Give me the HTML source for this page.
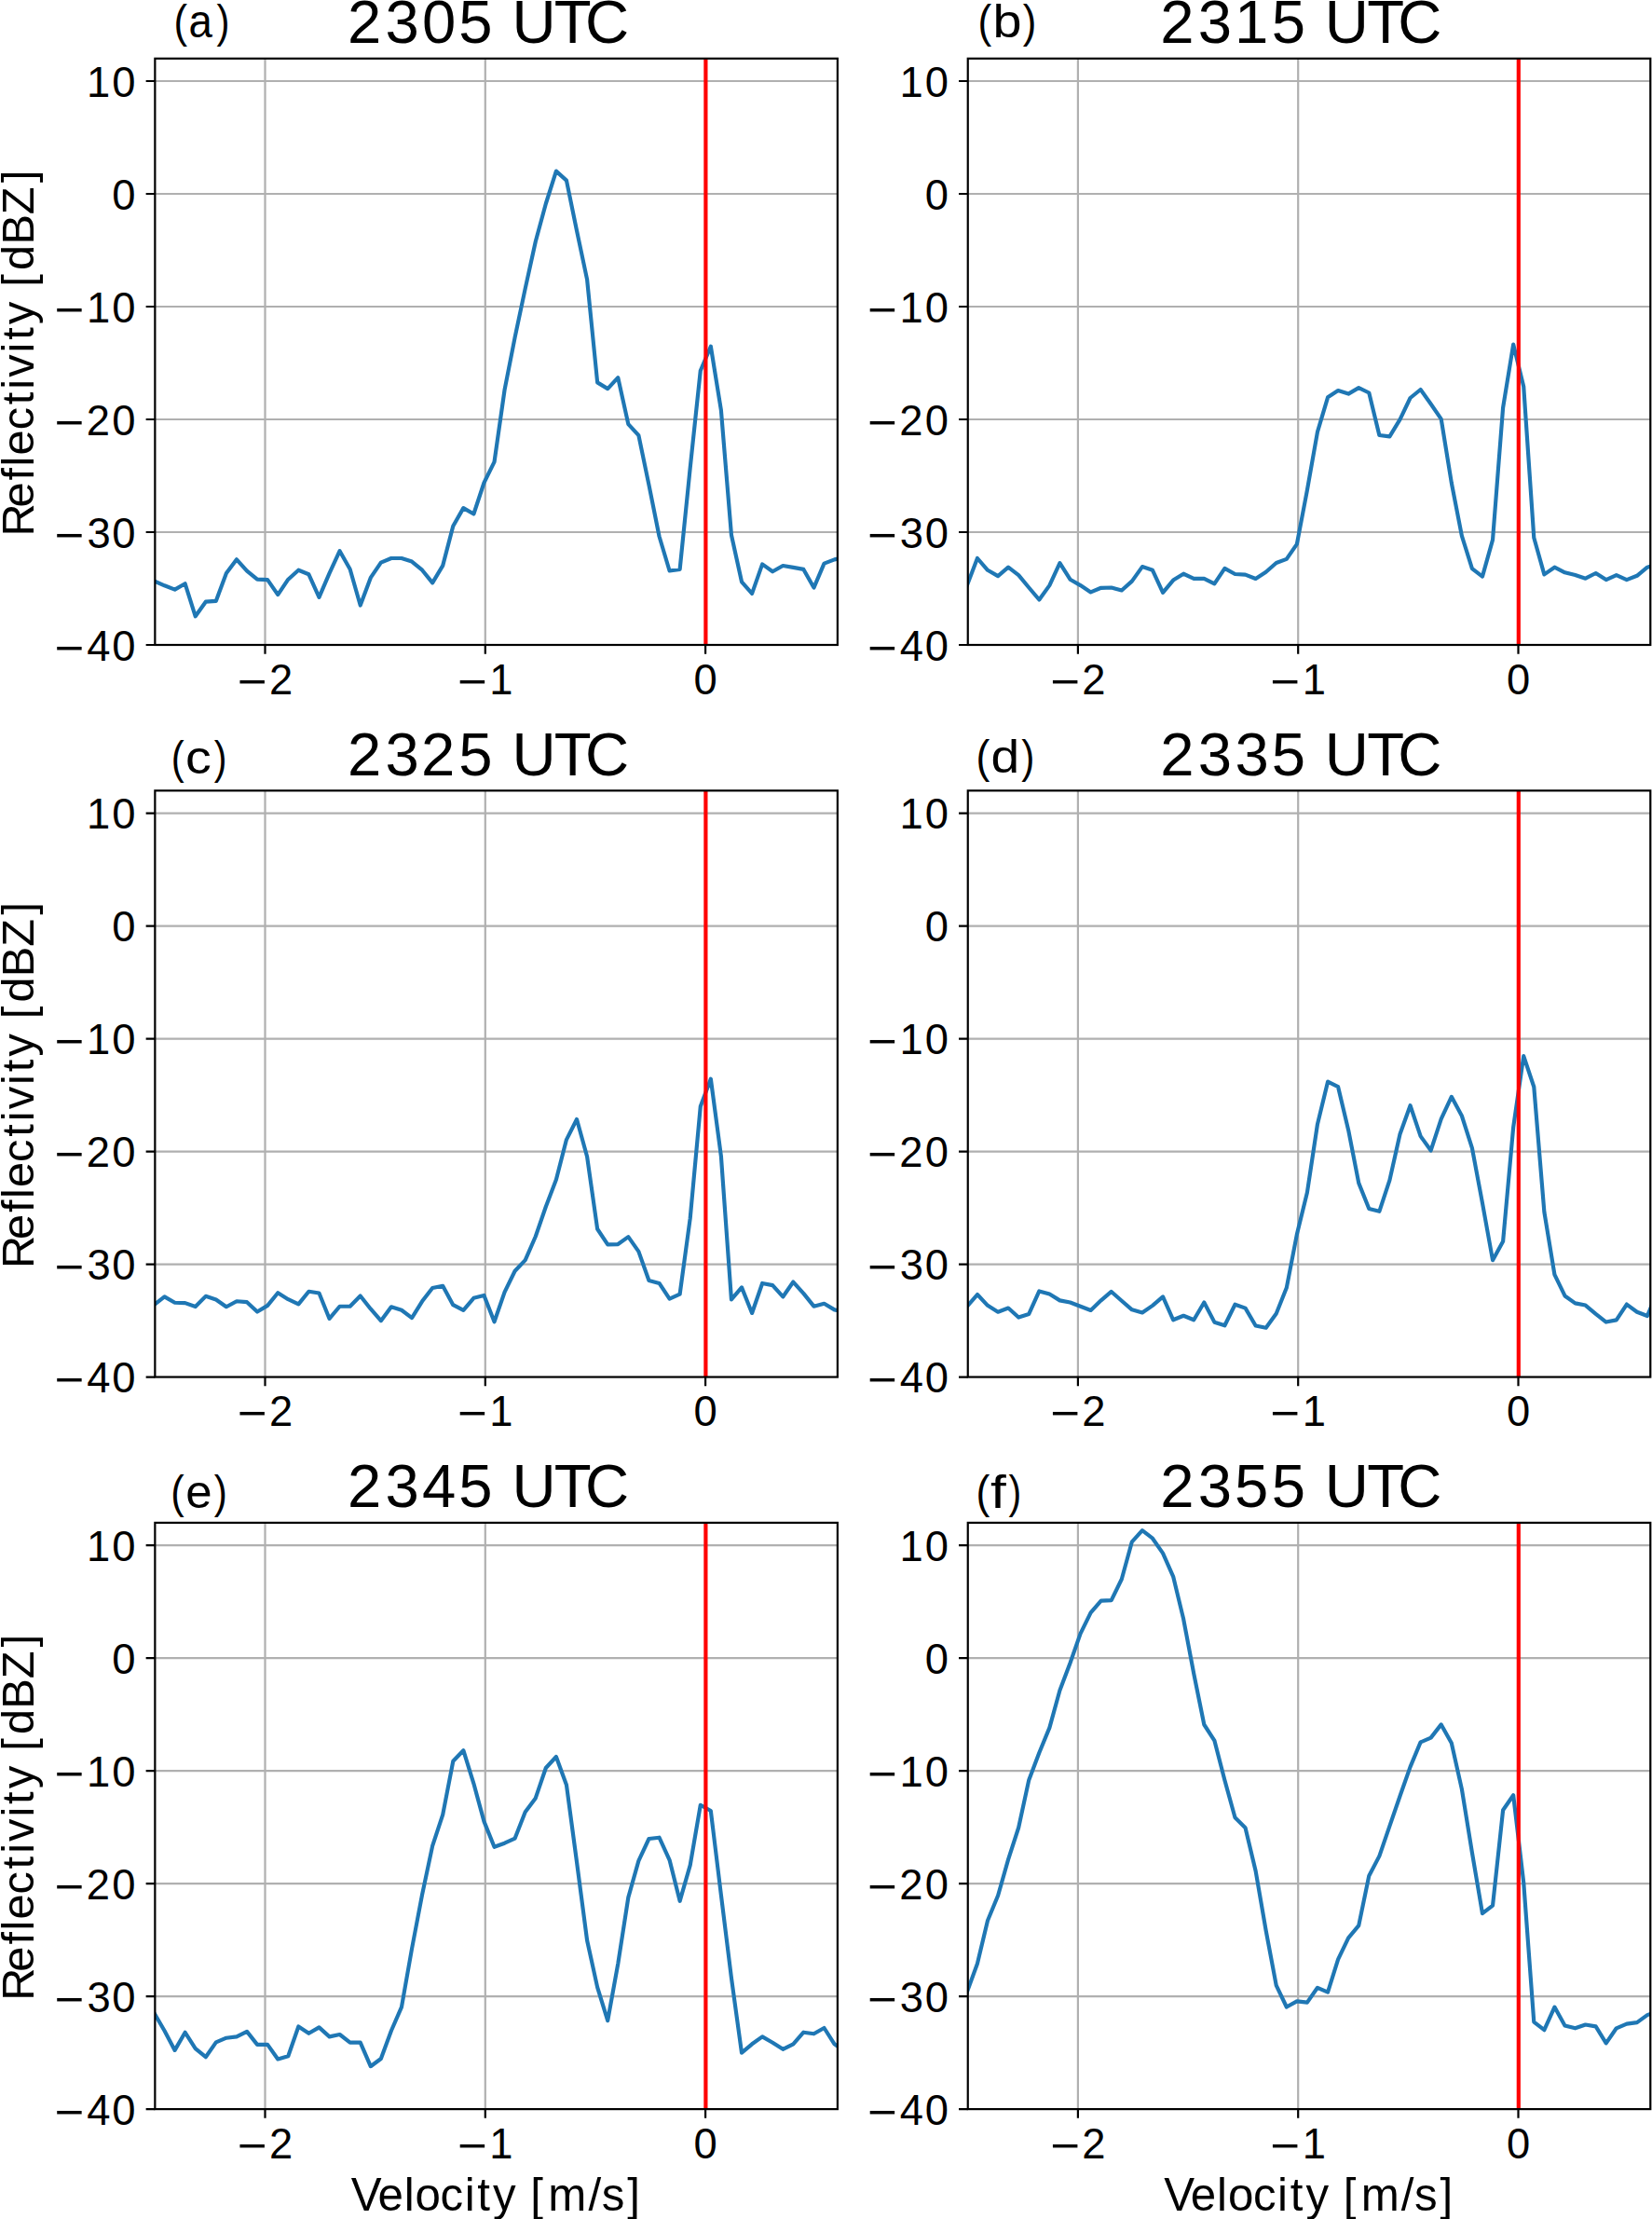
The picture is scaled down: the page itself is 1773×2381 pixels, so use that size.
<!DOCTYPE html>
<html><head><meta charset="utf-8"><title>Reflectivity spectra</title>
<style>html,body{margin:0;padding:0;background:#fff;width:1773px;height:2381px;overflow:hidden}
.t text{font-family:"Liberation Sans",sans-serif}</style>
</head><body>
<svg width="1773" height="2381" viewBox="0 0 1773 2381" style="display:block">
<rect width="1773" height="2381" fill="#ffffff"/>
<g class="t" fill="#000000">
<clipPath id="clipa"><rect x="166.35" y="62.80" width="732.53" height="629.20"/></clipPath>
<path d="M284.50 62.80V692.00M520.80 62.80V692.00M757.10 62.80V692.00M166.35 87.00H898.88M166.35 208.00H898.88M166.35 329.00H898.88M166.35 450.00H898.88M166.35 571.00H898.88" stroke="#b0b0b0" stroke-width="2.2" fill="none"/>
<polyline points="165.48,623.50 176.54,628.30 187.61,632.60 198.67,626.30 209.73,661.30 220.79,645.70 231.86,644.80 242.92,615.00 253.98,600.30 265.04,612.60 276.10,621.70 287.16,622.10 298.23,638.10 309.29,621.70 320.35,611.70 331.41,616.30 342.47,640.80 353.54,615.20 364.60,591.20 375.66,610.80 386.72,649.50 397.78,619.90 408.85,603.60 419.91,599.00 430.97,599.00 442.03,602.60 453.09,611.70 464.16,625.40 475.22,606.90 486.28,564.50 497.34,545.10 508.40,551.50 519.47,518.00 530.53,495.60 541.59,418.10 552.65,361.90 563.71,309.60 574.78,259.20 585.84,218.50 596.90,183.60 607.96,193.60 619.02,247.50 630.09,299.90 641.15,410.40 652.21,417.10 663.27,405.20 674.33,455.10 685.40,467.20 696.46,520.40 707.52,575.50 718.58,612.50 729.64,610.90 740.71,502.00 751.77,397.70 762.83,371.70 773.89,440.20 784.95,574.00 796.02,624.30 807.08,636.90 818.14,605.40 829.20,613.30 840.26,607.00 851.33,608.90 862.39,610.90 873.45,630.60 884.51,604.60 895.57,600.40 906.64,598.00" fill="none" stroke="#1f77b4" stroke-width="4.17" stroke-linejoin="round" stroke-linecap="square" clip-path="url(#clipa)"/>
<path d="M757.40 62.80V692.00" stroke="#ff0000" stroke-width="4.17" clip-path="url(#clipa)"/>
<rect x="166.35" y="62.80" width="732.53" height="629.20" fill="none" stroke="#000" stroke-width="2.2"/>
<path d="M284.50 692.00v9.72M520.80 692.00v9.72M757.10 692.00v9.72M166.35 87.00h-9.72M166.35 208.00h-9.72M166.35 329.00h-9.72M166.35 450.00h-9.72M166.35 571.00h-9.72M166.35 692.00h-9.72" stroke="#000" stroke-width="2.2" fill="none"/>
<text x="93.08 120.23" y="103.80" font-size="45.35">10</text>
<text x="120.23" y="224.80" font-size="45.35">0</text>
<text transform="translate(58.84,348.92) scale(1.2018,1.0861)" font-size="45.35">−</text><text x="93.08 120.23" y="345.80" font-size="45.35">10</text>
<text transform="translate(58.84,469.92) scale(1.2018,1.0861)" font-size="45.35">−</text><text x="92.76 120.23" y="466.80" font-size="45.35">20</text>
<text transform="translate(58.84,590.92) scale(1.2018,1.0861)" font-size="45.35">−</text><text x="93.38 120.23" y="587.80" font-size="45.35">30</text>
<text transform="translate(58.84,711.92) scale(1.2018,1.0861)" font-size="45.35">−</text><text x="93.32 120.23" y="708.80" font-size="45.35">40</text>
<text transform="translate(254.99,747.92) scale(1.2018,1.0861)" font-size="45.35">−</text><text x="288.92" y="744.80" font-size="45.35">2</text>
<text transform="translate(491.13,747.92) scale(1.2018,1.0861)" font-size="45.35">−</text><text x="525.37" y="744.80" font-size="45.35">1</text>
<text x="744.49" y="744.80" font-size="45.35">0</text>
<text x="372.95 413.44 452.94 492.28 530.47 549.45 594.87 627.93" y="46.00" font-size="65.26">2305 UTC</text>
<text transform="translate(186.49,40.40) scale(0.8672,1)" font-size="50.45">(</text>
<text transform="translate(202.56,40.40) scale(0.9030,1)" font-size="50.45">a</text>
<text transform="translate(232.55,40.40) scale(0.8298,1)" font-size="50.45">)</text>
<text transform="rotate(-90)" x="-575.54 -544.57 -515.49 -500.49 -488.38 -461.36 -434.28 -417.66 -404.82 -378.41 -364.80 -347.89 -322.35 -307.77 -289.88 -262.61 -230.22 -196.04" y="35.80" font-size="48.69">Reflectivity [dBZ]</text>
<clipPath id="clipb"><rect x="1038.75" y="62.80" width="732.53" height="629.20"/></clipPath>
<path d="M1156.90 62.80V692.00M1393.20 62.80V692.00M1629.50 62.80V692.00M1038.75 87.00H1771.28M1038.75 208.00H1771.28M1038.75 329.00H1771.28M1038.75 450.00H1771.28M1038.75 571.00H1771.28" stroke="#b0b0b0" stroke-width="2.2" fill="none"/>
<polyline points="1037.88,628.10 1048.94,599.00 1060.01,611.80 1071.07,618.10 1082.13,608.70 1093.19,617.20 1104.26,630.50 1115.32,643.50 1126.38,628.10 1137.44,604.10 1148.50,621.70 1159.57,628.10 1170.63,635.40 1181.69,630.80 1192.75,630.50 1203.81,633.50 1214.88,623.60 1225.94,608.10 1237.00,611.80 1248.06,635.90 1259.12,622.60 1270.18,615.70 1281.25,620.80 1292.31,620.80 1303.37,626.30 1314.43,609.90 1325.49,616.00 1336.56,616.60 1347.62,621.00 1358.68,613.70 1369.74,604.00 1380.80,599.90 1391.87,583.90 1402.93,525.80 1413.99,463.30 1425.05,426.30 1436.11,419.00 1447.18,422.60 1458.24,416.10 1469.30,421.50 1480.36,467.00 1491.42,468.40 1502.49,450.20 1513.55,427.00 1524.61,418.00 1535.67,433.50 1546.73,449.60 1557.80,518.00 1568.86,574.80 1579.92,610.10 1590.98,618.60 1602.05,579.10 1613.11,437.30 1624.17,369.60 1635.23,414.80 1646.29,577.00 1657.36,616.40 1668.42,608.70 1679.48,614.30 1690.54,617.10 1701.60,620.70 1712.66,615.00 1723.73,622.10 1734.79,617.10 1745.85,622.10 1756.91,617.80 1767.97,608.70 1779.04,605.30" fill="none" stroke="#1f77b4" stroke-width="4.17" stroke-linejoin="round" stroke-linecap="square" clip-path="url(#clipb)"/>
<path d="M1629.80 62.80V692.00" stroke="#ff0000" stroke-width="4.17" clip-path="url(#clipb)"/>
<rect x="1038.75" y="62.80" width="732.53" height="629.20" fill="none" stroke="#000" stroke-width="2.2"/>
<path d="M1156.90 692.00v9.72M1393.20 692.00v9.72M1629.50 692.00v9.72M1038.75 87.00h-9.72M1038.75 208.00h-9.72M1038.75 329.00h-9.72M1038.75 450.00h-9.72M1038.75 571.00h-9.72M1038.75 692.00h-9.72" stroke="#000" stroke-width="2.2" fill="none"/>
<text x="965.48 992.63" y="103.80" font-size="45.35">10</text>
<text x="992.63" y="224.80" font-size="45.35">0</text>
<text transform="translate(931.24,348.92) scale(1.2018,1.0861)" font-size="45.35">−</text><text x="965.48 992.63" y="345.80" font-size="45.35">10</text>
<text transform="translate(931.24,469.92) scale(1.2018,1.0861)" font-size="45.35">−</text><text x="965.16 992.63" y="466.80" font-size="45.35">20</text>
<text transform="translate(931.24,590.92) scale(1.2018,1.0861)" font-size="45.35">−</text><text x="965.78 992.63" y="587.80" font-size="45.35">30</text>
<text transform="translate(931.24,711.92) scale(1.2018,1.0861)" font-size="45.35">−</text><text x="965.72 992.63" y="708.80" font-size="45.35">40</text>
<text transform="translate(1127.39,747.92) scale(1.2018,1.0861)" font-size="45.35">−</text><text x="1161.32" y="744.80" font-size="45.35">2</text>
<text transform="translate(1363.53,747.92) scale(1.2018,1.0861)" font-size="45.35">−</text><text x="1397.77" y="744.80" font-size="45.35">1</text>
<text x="1616.89" y="744.80" font-size="45.35">0</text>
<text x="1245.35 1285.84 1325.01 1364.68 1402.87 1421.85 1467.27 1500.33" y="46.00" font-size="65.26">2315 UTC</text>
<text transform="translate(1049.56,40.40) scale(0.8747,1)" font-size="50.45">(</text>
<text transform="translate(1065.50,40.40) scale(1.1063,1)" font-size="50.45">b</text>
<text transform="translate(1097.84,40.40) scale(0.8672,1)" font-size="50.45">)</text>
<clipPath id="clipc"><rect x="166.35" y="848.35" width="732.53" height="629.20"/></clipPath>
<path d="M284.50 848.35V1477.55M520.80 848.35V1477.55M757.10 848.35V1477.55M166.35 872.55H898.88M166.35 993.55H898.88M166.35 1114.55H898.88M166.35 1235.55H898.88M166.35 1356.55H898.88" stroke="#b0b0b0" stroke-width="2.2" fill="none"/>
<polyline points="165.48,1399.95 176.54,1391.35 187.61,1397.75 198.67,1398.15 209.73,1402.05 220.79,1390.85 231.86,1394.45 242.92,1402.25 253.98,1396.25 265.04,1397.15 276.10,1407.55 287.16,1400.85 298.23,1387.25 309.29,1394.15 320.35,1399.35 331.41,1385.75 342.47,1387.55 353.54,1414.95 364.60,1401.75 375.66,1401.75 386.72,1390.45 397.78,1404.45 408.85,1417.15 419.91,1402.25 430.97,1405.75 442.03,1414.05 453.09,1396.35 464.16,1381.95 475.22,1379.75 486.28,1400.15 497.34,1405.95 508.40,1392.85 519.47,1389.95 530.53,1418.25 541.59,1386.35 552.65,1363.75 563.71,1352.15 574.78,1326.75 585.84,1294.75 596.90,1265.75 607.96,1222.85 619.02,1201.05 630.09,1241.05 641.15,1318.75 652.21,1335.45 663.27,1335.05 674.33,1327.15 685.40,1342.85 696.46,1374.05 707.52,1376.95 718.58,1393.65 729.64,1388.65 740.71,1307.25 751.77,1187.35 762.83,1157.65 773.89,1240.45 784.95,1394.45 796.02,1381.35 807.08,1408.95 818.14,1376.95 829.20,1379.15 840.26,1391.45 851.33,1375.55 862.39,1387.85 873.45,1401.65 884.51,1398.75 895.57,1405.35 906.64,1407.55" fill="none" stroke="#1f77b4" stroke-width="4.17" stroke-linejoin="round" stroke-linecap="square" clip-path="url(#clipc)"/>
<path d="M757.40 848.35V1477.55" stroke="#ff0000" stroke-width="4.17" clip-path="url(#clipc)"/>
<rect x="166.35" y="848.35" width="732.53" height="629.20" fill="none" stroke="#000" stroke-width="2.2"/>
<path d="M284.50 1477.55v9.72M520.80 1477.55v9.72M757.10 1477.55v9.72M166.35 872.55h-9.72M166.35 993.55h-9.72M166.35 1114.55h-9.72M166.35 1235.55h-9.72M166.35 1356.55h-9.72M166.35 1477.55h-9.72" stroke="#000" stroke-width="2.2" fill="none"/>
<text x="93.08 120.23" y="889.35" font-size="45.35">10</text>
<text x="120.23" y="1010.35" font-size="45.35">0</text>
<text transform="translate(58.84,1134.47) scale(1.2018,1.0861)" font-size="45.35">−</text><text x="93.08 120.23" y="1131.35" font-size="45.35">10</text>
<text transform="translate(58.84,1255.47) scale(1.2018,1.0861)" font-size="45.35">−</text><text x="92.76 120.23" y="1252.35" font-size="45.35">20</text>
<text transform="translate(58.84,1376.47) scale(1.2018,1.0861)" font-size="45.35">−</text><text x="93.38 120.23" y="1373.35" font-size="45.35">30</text>
<text transform="translate(58.84,1497.47) scale(1.2018,1.0861)" font-size="45.35">−</text><text x="93.32 120.23" y="1494.35" font-size="45.35">40</text>
<text transform="translate(254.99,1533.47) scale(1.2018,1.0861)" font-size="45.35">−</text><text x="288.92" y="1530.35" font-size="45.35">2</text>
<text transform="translate(491.13,1533.47) scale(1.2018,1.0861)" font-size="45.35">−</text><text x="525.37" y="1530.35" font-size="45.35">1</text>
<text x="744.49" y="1530.35" font-size="45.35">0</text>
<text x="372.95 413.44 452.12 492.28 530.47 549.45 594.87 627.93" y="831.55" font-size="65.26">2325 UTC</text>
<text transform="translate(183.70,829.50) scale(0.8298,1)" font-size="50.45">(</text>
<text transform="translate(198.94,829.50) scale(1.1034,1)" font-size="50.45">c</text>
<text transform="translate(229.66,829.50) scale(0.8149,1)" font-size="50.45">)</text>
<text transform="rotate(-90)" x="-1361.09 -1330.12 -1301.04 -1286.04 -1273.93 -1246.91 -1219.83 -1203.21 -1190.37 -1163.96 -1150.35 -1133.44 -1107.90 -1093.32 -1075.43 -1048.16 -1015.77 -981.59" y="35.80" font-size="48.69">Reflectivity [dBZ]</text>
<clipPath id="clipd"><rect x="1038.75" y="848.35" width="732.53" height="629.20"/></clipPath>
<path d="M1156.90 848.35V1477.55M1393.20 848.35V1477.55M1629.50 848.35V1477.55M1038.75 872.55H1771.28M1038.75 993.55H1771.28M1038.75 1114.55H1771.28M1038.75 1235.55H1771.28M1038.75 1356.55H1771.28" stroke="#b0b0b0" stroke-width="2.2" fill="none"/>
<polyline points="1037.88,1401.75 1048.94,1389.05 1060.01,1400.85 1071.07,1407.75 1082.13,1403.55 1093.19,1413.55 1104.26,1409.95 1115.32,1385.45 1126.38,1388.55 1137.44,1395.35 1148.50,1397.55 1159.57,1401.75 1170.63,1405.95 1181.69,1395.35 1192.75,1385.95 1203.81,1395.75 1214.88,1405.35 1225.94,1408.45 1237.00,1400.85 1248.06,1391.45 1259.12,1416.25 1270.18,1411.75 1281.25,1416.25 1292.31,1397.55 1303.37,1418.65 1314.43,1422.25 1325.49,1399.75 1336.56,1403.65 1347.62,1422.55 1358.68,1424.75 1369.74,1409.55 1380.80,1381.85 1391.87,1324.55 1402.93,1279.45 1413.99,1206.15 1425.05,1160.65 1436.11,1166.15 1447.18,1212.65 1458.24,1269.35 1469.30,1296.95 1480.36,1299.85 1491.42,1266.35 1502.49,1217.05 1513.55,1186.25 1524.61,1219.15 1535.67,1234.45 1546.73,1200.55 1557.80,1176.85 1568.86,1197.25 1579.92,1231.85 1590.98,1290.95 1602.05,1352.25 1613.11,1332.05 1624.17,1209.45 1635.23,1133.05 1646.29,1166.25 1657.36,1300.35 1668.42,1367.55 1679.48,1390.45 1690.54,1398.35 1701.60,1400.55 1712.66,1409.85 1723.73,1418.55 1734.79,1416.35 1745.85,1399.55 1756.91,1407.75 1767.97,1412.05 1779.04,1385.55" fill="none" stroke="#1f77b4" stroke-width="4.17" stroke-linejoin="round" stroke-linecap="square" clip-path="url(#clipd)"/>
<path d="M1629.80 848.35V1477.55" stroke="#ff0000" stroke-width="4.17" clip-path="url(#clipd)"/>
<rect x="1038.75" y="848.35" width="732.53" height="629.20" fill="none" stroke="#000" stroke-width="2.2"/>
<path d="M1156.90 1477.55v9.72M1393.20 1477.55v9.72M1629.50 1477.55v9.72M1038.75 872.55h-9.72M1038.75 993.55h-9.72M1038.75 1114.55h-9.72M1038.75 1235.55h-9.72M1038.75 1356.55h-9.72M1038.75 1477.55h-9.72" stroke="#000" stroke-width="2.2" fill="none"/>
<text x="965.48 992.63" y="889.35" font-size="45.35">10</text>
<text x="992.63" y="1010.35" font-size="45.35">0</text>
<text transform="translate(931.24,1134.47) scale(1.2018,1.0861)" font-size="45.35">−</text><text x="965.48 992.63" y="1131.35" font-size="45.35">10</text>
<text transform="translate(931.24,1255.47) scale(1.2018,1.0861)" font-size="45.35">−</text><text x="965.16 992.63" y="1252.35" font-size="45.35">20</text>
<text transform="translate(931.24,1376.47) scale(1.2018,1.0861)" font-size="45.35">−</text><text x="965.78 992.63" y="1373.35" font-size="45.35">30</text>
<text transform="translate(931.24,1497.47) scale(1.2018,1.0861)" font-size="45.35">−</text><text x="965.72 992.63" y="1494.35" font-size="45.35">40</text>
<text transform="translate(1127.39,1533.47) scale(1.2018,1.0861)" font-size="45.35">−</text><text x="1161.32" y="1530.35" font-size="45.35">2</text>
<text transform="translate(1363.53,1533.47) scale(1.2018,1.0861)" font-size="45.35">−</text><text x="1397.77" y="1530.35" font-size="45.35">1</text>
<text x="1616.89" y="1530.35" font-size="45.35">0</text>
<text x="1245.35 1285.84 1325.42 1364.68 1402.87 1421.85 1467.27 1500.33" y="831.55" font-size="65.26">2335 UTC</text>
<text transform="translate(1047.54,829.40) scale(0.8822,1)" font-size="50.45">(</text>
<text transform="translate(1063.38,829.40) scale(1.0931,1)" font-size="50.45">d</text>
<text transform="translate(1096.35,829.40) scale(0.8373,1)" font-size="50.45">)</text>
<clipPath id="clipe"><rect x="166.35" y="1633.90" width="732.53" height="629.20"/></clipPath>
<path d="M284.50 1633.90V2263.10M520.80 1633.90V2263.10M757.10 1633.90V2263.10M166.35 1658.10H898.88M166.35 1779.10H898.88M166.35 1900.10H898.88M166.35 2021.10H898.88M166.35 2142.10H898.88" stroke="#b0b0b0" stroke-width="2.2" fill="none"/>
<polyline points="165.48,2160.00 176.54,2179.00 187.61,2199.90 198.67,2180.80 209.73,2198.10 220.79,2207.20 231.86,2191.40 242.92,2186.70 253.98,2185.40 265.04,2179.90 276.10,2193.90 287.16,2193.90 298.23,2209.50 309.29,2206.30 320.35,2174.50 331.41,2181.80 342.47,2175.40 353.54,2185.40 364.60,2183.00 375.66,2191.70 386.72,2191.70 397.78,2217.20 408.85,2209.00 419.91,2179.00 430.97,2153.60 442.03,2091.00 453.09,2032.90 464.16,1980.60 475.22,1947.20 486.28,1889.80 497.34,1878.20 508.40,1913.80 519.47,1954.40 530.53,1981.80 541.59,1977.70 552.65,1972.60 563.71,1944.30 574.78,1929.40 585.84,1897.00 596.90,1885.00 607.96,1915.20 619.02,1997.90 630.09,2082.00 641.15,2132.40 652.21,2168.20 663.27,2107.10 674.33,2035.90 685.40,1996.60 696.46,1973.00 707.52,1971.70 718.58,1995.80 729.64,2039.80 740.71,2001.30 751.77,1936.80 762.83,1943.00 773.89,2033.20 784.95,2122.20 796.02,2202.70 807.08,2193.30 818.14,2185.40 829.20,2191.70 840.26,2198.80 851.33,2193.30 862.39,2180.70 873.45,2182.30 884.51,2176.00 895.57,2193.30 906.64,2201.10" fill="none" stroke="#1f77b4" stroke-width="4.17" stroke-linejoin="round" stroke-linecap="square" clip-path="url(#clipe)"/>
<path d="M757.40 1633.90V2263.10" stroke="#ff0000" stroke-width="4.17" clip-path="url(#clipe)"/>
<rect x="166.35" y="1633.90" width="732.53" height="629.20" fill="none" stroke="#000" stroke-width="2.2"/>
<path d="M284.50 2263.10v9.72M520.80 2263.10v9.72M757.10 2263.10v9.72M166.35 1658.10h-9.72M166.35 1779.10h-9.72M166.35 1900.10h-9.72M166.35 2021.10h-9.72M166.35 2142.10h-9.72M166.35 2263.10h-9.72" stroke="#000" stroke-width="2.2" fill="none"/>
<text x="93.08 120.23" y="1674.90" font-size="45.35">10</text>
<text x="120.23" y="1795.90" font-size="45.35">0</text>
<text transform="translate(58.84,1920.02) scale(1.2018,1.0861)" font-size="45.35">−</text><text x="93.08 120.23" y="1916.90" font-size="45.35">10</text>
<text transform="translate(58.84,2041.02) scale(1.2018,1.0861)" font-size="45.35">−</text><text x="92.76 120.23" y="2037.90" font-size="45.35">20</text>
<text transform="translate(58.84,2162.02) scale(1.2018,1.0861)" font-size="45.35">−</text><text x="93.38 120.23" y="2158.90" font-size="45.35">30</text>
<text transform="translate(58.84,2283.02) scale(1.2018,1.0861)" font-size="45.35">−</text><text x="93.32 120.23" y="2279.90" font-size="45.35">40</text>
<text transform="translate(254.99,2319.02) scale(1.2018,1.0861)" font-size="45.35">−</text><text x="288.92" y="2315.90" font-size="45.35">2</text>
<text transform="translate(491.13,2319.02) scale(1.2018,1.0861)" font-size="45.35">−</text><text x="525.37" y="2315.90" font-size="45.35">1</text>
<text x="744.49" y="2315.90" font-size="45.35">0</text>
<text x="372.95 413.44 452.93 492.28 530.47 549.45 594.87 627.93" y="1617.10" font-size="65.26">2345 UTC</text>
<text transform="translate(183.31,1618.20) scale(0.8597,1)" font-size="50.45">(</text>
<text transform="translate(199.34,1618.20) scale(1.0096,1)" font-size="50.45">e</text>
<text transform="translate(229.65,1618.20) scale(0.8373,1)" font-size="50.45">)</text>
<text transform="rotate(-90)" x="-2146.64 -2115.67 -2086.59 -2071.59 -2059.48 -2032.46 -2005.38 -1988.76 -1975.92 -1949.51 -1935.90 -1918.99 -1893.45 -1878.87 -1860.98 -1833.71 -1801.32 -1767.14" y="35.80" font-size="48.69">Reflectivity [dBZ]</text>
<text x="376.74 405.39 433.67 445.53 472.56 498.65 512.24 529.08 554.76 569.24 588.28 631.42 645.63 673.15" y="2371.60" font-size="49.27">Velocity [m/s]</text>
<clipPath id="clipf"><rect x="1038.75" y="1633.90" width="732.53" height="629.20"/></clipPath>
<path d="M1156.90 1633.90V2263.10M1393.20 1633.90V2263.10M1629.50 1633.90V2263.10M1038.75 1658.10H1771.28M1038.75 1779.10H1771.28M1038.75 1900.10H1771.28M1038.75 2021.10H1771.28M1038.75 2142.10H1771.28" stroke="#b0b0b0" stroke-width="2.2" fill="none"/>
<polyline points="1037.88,2137.40 1048.94,2107.00 1060.01,2060.80 1071.07,2034.00 1082.13,1995.10 1093.19,1961.00 1104.26,1909.90 1115.32,1880.70 1126.38,1853.90 1137.44,1813.70 1148.50,1784.50 1159.57,1752.90 1170.63,1730.30 1181.69,1717.60 1192.75,1717.10 1203.81,1694.50 1214.88,1654.30 1225.94,1642.20 1237.00,1650.70 1248.06,1666.60 1259.12,1691.60 1270.18,1737.30 1281.25,1795.80 1292.31,1850.50 1303.37,1867.60 1314.43,1910.20 1325.49,1950.30 1336.56,1961.20 1347.62,2007.50 1358.68,2071.70 1369.74,2130.40 1380.80,2153.50 1391.87,2147.40 1402.93,2148.60 1413.99,2132.80 1425.05,2137.70 1436.11,2102.40 1447.18,2079.30 1458.24,2066.10 1469.30,2012.70 1480.36,1991.60 1491.42,1959.40 1502.49,1927.20 1513.55,1895.90 1524.61,1869.40 1535.67,1864.60 1546.73,1850.40 1557.80,1870.30 1568.86,1919.60 1579.92,1987.80 1590.98,2053.10 1602.05,2044.60 1613.11,1942.30 1624.17,1926.20 1635.23,2020.00 1646.29,2169.70 1657.36,2178.20 1668.42,2153.60 1679.48,2173.50 1690.54,2176.30 1701.60,2172.50 1712.66,2174.40 1723.73,2192.40 1734.79,2176.30 1745.85,2171.60 1756.91,2170.10 1767.97,2162.10 1779.04,2158.30" fill="none" stroke="#1f77b4" stroke-width="4.17" stroke-linejoin="round" stroke-linecap="square" clip-path="url(#clipf)"/>
<path d="M1629.80 1633.90V2263.10" stroke="#ff0000" stroke-width="4.17" clip-path="url(#clipf)"/>
<rect x="1038.75" y="1633.90" width="732.53" height="629.20" fill="none" stroke="#000" stroke-width="2.2"/>
<path d="M1156.90 2263.10v9.72M1393.20 2263.10v9.72M1629.50 2263.10v9.72M1038.75 1658.10h-9.72M1038.75 1779.10h-9.72M1038.75 1900.10h-9.72M1038.75 2021.10h-9.72M1038.75 2142.10h-9.72M1038.75 2263.10h-9.72" stroke="#000" stroke-width="2.2" fill="none"/>
<text x="965.48 992.63" y="1674.90" font-size="45.35">10</text>
<text x="992.63" y="1795.90" font-size="45.35">0</text>
<text transform="translate(931.24,1920.02) scale(1.2018,1.0861)" font-size="45.35">−</text><text x="965.48 992.63" y="1916.90" font-size="45.35">10</text>
<text transform="translate(931.24,2041.02) scale(1.2018,1.0861)" font-size="45.35">−</text><text x="965.16 992.63" y="2037.90" font-size="45.35">20</text>
<text transform="translate(931.24,2162.02) scale(1.2018,1.0861)" font-size="45.35">−</text><text x="965.78 992.63" y="2158.90" font-size="45.35">30</text>
<text transform="translate(931.24,2283.02) scale(1.2018,1.0861)" font-size="45.35">−</text><text x="965.72 992.63" y="2279.90" font-size="45.35">40</text>
<text transform="translate(1127.39,2319.02) scale(1.2018,1.0861)" font-size="45.35">−</text><text x="1161.32" y="2315.90" font-size="45.35">2</text>
<text transform="translate(1363.53,2319.02) scale(1.2018,1.0861)" font-size="45.35">−</text><text x="1397.77" y="2315.90" font-size="45.35">1</text>
<text x="1616.89" y="2315.90" font-size="45.35">0</text>
<text x="1245.35 1285.84 1325.10 1364.68 1402.87 1421.85 1467.27 1500.33" y="1617.10" font-size="65.26">2355 UTC</text>
<text transform="translate(1047.54,1618.30) scale(0.8822,1)" font-size="50.45">(</text>
<text transform="translate(1063.05,1618.30) scale(1.1962,1)" font-size="50.45">f</text>
<text transform="translate(1082.46,1618.30) scale(0.8149,1)" font-size="50.45">)</text>
<text x="1249.14 1277.79 1306.07 1317.93 1344.96 1371.05 1384.64 1401.48 1427.16 1441.64 1460.68 1503.82 1518.03 1545.55" y="2371.60" font-size="49.27">Velocity [m/s]</text>
</g></svg>
</body></html>
